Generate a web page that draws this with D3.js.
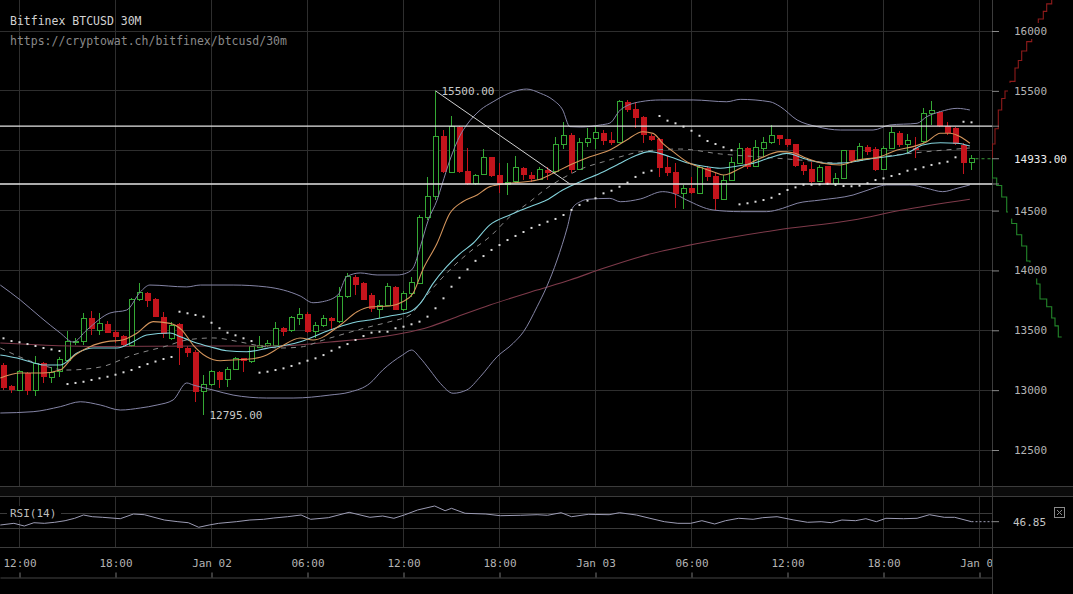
<!DOCTYPE html>
<html><head><meta charset="utf-8">
<script src="https://cdn.jsdelivr.net/npm/d3@7"></script>
<style>
html,body{margin:0;padding:0;background:#000;}
svg{display:block;}
text{font-family:"DejaVu Sans Mono",monospace;}
</style></head><body>
<svg id="chart" width="1073" height="594"></svg>
<script>
// ---------------- DATA ----------------
const chartTitle = "Bitfinex BTCUSD 30M";
const chartSubtitle = "https://cryptowat.ch/bitfinex/btcusd/30m";
const startTime = Date.UTC(2018, 0, 1, 12, 0);   // time of candle index 0 (Jan 01 12:00)
const firstIndex = -2;                            // first visible candle index (30m steps)

const opens = [
13210,13035,12995,13146,12995,13224,13107,13154,13246,13405,
13405,13600,13502,13553,13486,13452,13369,13753,13814,13759,
13609,13433,13550,13350,13319,12987,13043,13154,13090,13174,
13266,13238,13358,13369,13377,13517,13497,13600,13636,13489,
13536,13600,13572,13786,13943,13892,13795,13675,13711,13859,
13675,13809,13893,14444,14616,15123,14817,15201,14833,14722,
14803,14945,14797,14714,14741,14853,14797,14761,14839,14825,
15048,15131,14845,15067,15104,15150,15090,15067,15410,15346,
15279,15123,15095,14861,14825,14645,14686,14645,14853,14789,
14594,14755,14895,15020,14870,15020,15067,15131,15095,15056,
14880,14845,14741,14872,14722,14770,15006,14917,15029,15012,
14845,15020,15145,15048,15020,15073,15307,15326,15207,15187,
15048,14900];
const highs = [
13227,13043,13168,13154,13285,13238,13196,13274,13497,13436,
13642,13664,13647,13580,13502,13461,13767,13898,13822,13767,
13655,13572,13558,13369,13336,13127,13168,13160,13191,13279,
13271,13369,13452,13419,13572,13525,13620,13684,13650,13572,
13628,13609,13864,13982,13962,13900,13809,13753,13892,13870,
13830,13943,14463,14783,15500,15173,15292,15210,15020,14805,
15015,14950,14895,14895,14956,14860,14825,14861,14861,15112,
15243,15146,15104,15187,15207,15173,15159,15424,15424,15410,
15290,15140,15104,14956,14900,14714,14778,14870,14870,14811,
14797,14950,15062,15030,15090,15112,15215,15131,15100,15060,
14908,14908,14880,14872,14811,15010,15010,15062,15048,15030,
15040,15195,15167,15140,15112,15354,15418,15335,15243,15200,
15062,14964];
const lows = [
13001,12976,12993,12960,12951,13062,13057,13112,13238,13377,
13377,13461,13461,13475,13394,13363,13363,13747,13692,13609,
13433,13419,13210,13279,12904,12795,13035,13015,13024,13170,
13154,13230,13355,13358,13369,13452,13489,13544,13480,13433,
13530,13502,13564,13767,13795,13753,13655,13600,13700,13670,
13665,13781,13885,14421,14588,14814,14810,14815,14714,14714,
14797,14780,14645,14630,14728,14755,14741,14755,14755,14810,
15015,14811,14840,15034,15012,15048,15048,15067,15326,15187,
15067,15080,14778,14789,14519,14511,14640,14640,14750,14505,
14590,14750,14890,14850,14865,14950,15060,15048,15034,14861,
14797,14730,14735,14714,14708,14765,14900,14910,14964,14830,
14840,15015,15029,14979,14936,15065,15215,15200,15131,15050,
14806,14839];
const closes = [
13018,13001,13154,12995,13224,13107,13146,13252,13405,13410,
13600,13508,13553,13480,13447,13377,13759,13814,13747,13614,
13469,13544,13350,13313,12987,13051,13154,13085,13174,13266,
13246,13363,13377,13386,13517,13489,13609,13636,13489,13536,
13600,13580,13786,13953,13878,13753,13675,13711,13864,13670,
13809,13898,14444,14616,15117,14825,15201,14825,14722,14797,
14945,14789,14722,14733,14861,14797,14761,14839,14817,15056,
15123,14839,15067,15104,15150,15084,15067,15410,15340,15271,
15131,15090,14853,14817,14638,14686,14645,14861,14783,14594,
14755,14900,15020,14861,15029,15067,15131,15095,15048,14872,
14833,14741,14861,14722,14770,15000,14917,15034,14992,14839,
15020,15150,15048,15084,15006,15307,15335,15207,15146,15056,
14900,14933];

// Indicators: [candle index, price]
const bbUpper = [[-2.4,13878],[0.1,13753],[2.6,13611],[5.1,13477],[6.7,13402],[8.4,13502],[11.3,13644],[13.4,13669],[15.1,13820],[16.3,13878],[20.9,13862],[22.6,13878],[26.7,13878],[30.9,13862],[35.1,13786],[36.7,13730],[37.9,13739],[39.8,13795],[40.9,13948],[42.6,13979],[44.7,13962],[47.2,13962],[48.4,13979],[49.2,14020],[50.1,14198],[51.1,14421],[52.2,14588],[52.8,14714],[53.8,14922],[55.1,15131],[55.9,15215],[57.6,15340],[59.2,15409],[61.7,15493],[63.4,15515],[65.1,15480],[66.7,15424],[67.9,15340],[68.8,15201],[70.1,15198],[72.6,15215],[73.8,15231],[75.1,15340],[77.6,15409],[80.1,15424],[84.2,15424],[88.4,15409],[90.1,15429],[93.8,15409],[95.1,15368],[97.2,15257],[99.7,15201],[102.6,15173],[106.7,15173],[108.8,15215],[112.2,15229],[113.4,15284],[115.1,15326],[117.2,15354],[118.8,15340]];
const bbLower = [[-2.4,12809],[1.7,12820],[5.1,12862],[7.6,12903],[10.1,12876],[12.6,12834],[15.1,12851],[17.2,12876],[19.2,12918],[20.9,13060],[21.7,13043],[24.2,13001],[26.7,12959],[30.9,12934],[34.2,12934],[38.8,12959],[41.3,12984],[43.8,13057],[45.4,13168],[47.9,13294],[49,13335],[50.1,13268],[51.3,13168],[52.6,13057],[54.2,12974],[55.9,13001],[57.6,13112],[59.7,13279],[61.7,13391],[63,13488],[64.7,13697],[65.9,13864],[67.2,14087],[68.5,14365],[69.1,14519],[70.1,14574],[71,14594],[73.8,14602],[75.1,14574],[77.6,14597],[80.4,14658],[81.7,14644],[83.4,14588],[86.7,14505],[90.1,14491],[93.4,14491],[95.4,14519],[97.2,14561],[100.1,14588],[104.2,14630],[106.7,14686],[108.4,14714],[111.3,14714],[113.4,14686],[115.4,14658],[117.2,14686],[118.8,14714]];
const bbMiddle = [[-2.4,13352],[1.7,13235],[5.9,13168],[10.1,13193],[14.2,13294],[18.4,13369],[20.9,13419],[24.2,13436],[27.6,13402],[30.1,13369],[32.6,13352],[35.1,13360],[38,13419],[43.8,13530],[46.3,13572],[48.8,13628],[50.4,13753],[52.2,13892],[54.2,14031],[56.3,14156],[58.8,14282],[61.3,14449],[63.8,14574],[65.9,14686],[67.9,14770],[70.4,14853],[73,14908],[75.9,14964],[77.6,14992],[82.6,15014],[87.6,14973],[92.6,14948],[97.6,14922],[102.6,14897],[107.6,14948],[113.4,14992],[118.8,15023]];
const emaFast = [[-2.4,13101],[0.1,13143],[2.9,13143],[5.1,13168],[6.7,13279],[8.8,13363],[10.9,13405],[12.9,13419],[14.7,13477],[16.7,13572],[18.8,13558],[20.3,13502],[21.7,13377],[23.4,13279],[25.1,13246],[26.7,13252],[28.4,13258],[30.1,13274],[30.9,13293],[32.6,13360],[35.1,13436],[36.7,13419],[40.1,13544],[42.2,13655],[43.8,13694],[46.3,13703],[47.9,13739],[49.2,13809],[50.4,14004],[52.2,14227],[53.8,14477],[55.4,14574],[57.2,14630],[58.8,14700],[61.3,14728],[64.7,14755],[66.7,14811],[68.8,14881],[71.3,14950],[73.8,15006],[75.9,15090],[77.9,15159],[79.2,15145],[80.4,15062],[81.7,14992],[83.4,14908],[85.1,14861],[86.7,14825],[88,14797],[90.1,14853],[92.6,14937],[95.1,14992],[96.7,14983],[98.4,14937],[100.4,14895],[102.6,14881],[104.7,14922],[107.6,14950],[109.7,15006],[111.7,15034],[113.4,15075],[115.1,15146],[116.3,15146],[117.6,15117],[118.8,15062]];
const emaMid = [[-2.4,13294],[-0.3,13268],[1.7,13229],[2.9,13210],[5.1,13210],[7.2,13310],[9.2,13352],[12.2,13352],[14.2,13405],[15.9,13461],[18.8,13477],[20.1,13446],[21.7,13405],[23.8,13363],[25.9,13329],[28.4,13321],[30.9,13349],[33.4,13377],[35.1,13405],[38.8,13502],[42.2,13572],[43.8,13586],[46.3,13619],[48.8,13655],[50.1,13725],[51.7,13892],[53.4,14031],[55.1,14143],[56.7,14227],[58.8,14380],[61.3,14463],[63.8,14532],[65.9,14588],[67.9,14672],[70.1,14741],[73,14825],[75.1,14895],[76.7,14950],[78.8,14992],[81.3,14950],[83.4,14900],[85.4,14872],[87.6,14853],[89.2,14866],[91.7,14895],[94.2,14950],[95.9,14978],[98.4,14928],[100.9,14895],[103.4,14900],[105.9,14928],[108.4,14950],[110.9,14978],[112.9,15048],[115.1,15067],[117.2,15062],[118.8,15039]];
const maSlow = [[-2.4,13394],[10.1,13364],[22.6,13369],[32.6,13369],[38.8,13402],[43.8,13433],[47.9,13475],[51.3,13530],[54.7,13613],[58.8,13711],[64.7,13836],[68.8,13920],[73,14018],[77.6,14115],[85.1,14229],[94.7,14338],[104.2,14421],[110,14500],[118.8,14595]];
// Parabolic SAR, one value per candle from firstIndex
const sarValues = [
13433,13410,13400,13385,13369,13352,13340,13327,13051,13060,
13070,13085,13099,13112,13129,13149,13168,13193,13218,13239,
13260,13277,13655,13642,13628,13614,13563,13517,13480,13458,
13433,13410,13146,13154,13168,13182,13202,13224,13246,13266,
13293,13329,13358,13385,13419,13452,13480,13488,13488,13517,
13530,13550,13572,13614,13684,13767,13864,13939,14009,14080,
14120,14171,14212,14254,14288,14321,14355,14380,14407,14430,
14463,14505,14547,14583,14603,14644,14666,14699,14733,14781,
14816,14833,15290,15251,15229,15201,15167,15125,15081,15056,
15029,15004,14552,14561,14574,14588,14607,14638,14672,14694,
14716,14716,14719,14724,14716,14705,14703,14708,14728,14755,
14769,14789,14805,14833,14845,14862,14881,14895,14908,14945,
15242,15237];
// RSI(14): [candle index, value]
const rsiValues = [[-2.4,38],[-0.7,42.5],[0.6,35.3],[1.8,44.1],[3.1,42.5],[4.4,45.2],[5.7,49.5],[6.9,55.9],[8,64.7],[9.1,60.1],[10.4,58.5],[12.6,54.8],[14.25,67.3],[15.6,65.5],[18.1,51.3],[19.8,46.8],[21.1,44.1],[22.4,31.9],[23.7,38],[24.9,42.5],[27.1,46.8],[28.8,51.3],[30.5,53.2],[31.8,56.7],[33.5,60.1],[35.2,64.7],[36.4,53.2],[38.6,57.5],[41.2,71.9],[43.8,58.5],[45.4,62],[46.8,55.9],[48.1,64.7],[49.75,78],[51.9,88.7],[53.2,76.1],[54,82.5],[55.7,69.2],[58.3,67.3],[60.1,62.8],[62.6,63.9],[64.7,65.5],[66,63.9],[67.7,70.8],[69,60.1],[71.1,66.5],[73.7,65.5],[75,70.8],[77.1,64.7],[78.8,55.9],[80.6,46.8],[82.3,42.5],[83.9,42.5],[85.3,49.5],[86.9,40.7],[88.25,49.5],[89.9,55.9],[91.7,53.2],[92.9,57.5],[94.7,60.1],[96.8,51.3],[98.5,45.2],[100.2,46.8],[101.5,44.1],[102.8,51.3],[104.5,49.5],[105.8,54.8],[107.1,46.8],[108.3,55.9],[110.5,54.8],[112.2,55.9],[113.75,65.5],[115.6,58.5],[116.9,58.5],[119,46.85]];
const rsiLevels = [70, 30];
const lastRsi = 46.85;
const lastPrice = 14933;
// Order book depth: [price, cumulative volume]
const asksDepth = [[14933,0],[14940,3],[15056,30],[15183,63],[15340,97],[15436,130],[15499,180],[15579,230],[15691,263],[15753,297],[15833,347],[15911,397],[15975,430],[16038,463],[16100,513],[16164,547],[16227,597],[16300,660]];
const bidsDepth = [[14933,0],[14930,3],[14772,47],[14709,97],[14613,147],[14488,197],[14392,247],[14298,297],[14204,347],[14079,380],[14029,447],[13887,480],[13761,547],[13696,597],[13603,630],[13537,663],[13444,697]];
// Drawings
const supportLevels = [15205, 14722];
const trendLine = [[52, 15500], [68.8, 14722]];
const highMark = {index: 52, price: 15500, text: "15500.00"};
const lowMark = {index: 23, price: 12795, text: "12795.00"};
const gridPrices = [16000, 15500, 15000, 14500, 14000, 13500, 13000, 12500];
const priceLabels = [16000, 15500, 14500, 14000, 13500, 13000, 12500];

// ---------------- CHART ----------------
const W = 1073, H = 594, plotRight = 992, mainBottom = 486;
const halfHour = 30 * 60 * 1000;
const tAt = i => new Date(startTime + i * halfHour);
const x = d3.scaleTime().domain([tAt(-2.4375), tAt(121.5625)]).range([0, plotRight]);
const y = d3.scaleLinear().domain([12500, 16000]).range([450, 31]);
const yRsi = d3.scaleLinear().domain([30, 70]).range([528, 513]);
const xDepth = d3.scaleLinear().domain([0, 810]).range([plotRight, W]);

const svg = d3.select("#chart");
svg.append("rect").attr("width", W).attr("height", H).attr("fill", "#000");
const defs = svg.append("defs");
defs.append("clipPath").attr("id", "clipMain").append("rect").attr("x", 0).attr("y", 0).attr("width", plotRight).attr("height", mainBottom);
defs.append("clipPath").attr("id", "clipDepth").append("rect").attr("x", plotRight).attr("y", 0).attr("width", W - plotRight).attr("height", mainBottom);
defs.append("clipPath").attr("id", "clipTime").append("rect").attr("x", 0).attr("y", -40).attr("width", plotRight).attr("height", 60);
defs.append("clipPath").attr("id", "clipRsi").append("rect").attr("x", 0).attr("y", 497).attr("width", plotRight).attr("height", 50);

svg.append("rect").attr("x", 0).attr("y", 487).attr("width", W).attr("height", 9).attr("fill", "#0b0b0b");

const gridColor = "#2e2e2e";
const timeTicks = x.ticks(d3.utcHour.every(6));
const grid = svg.append("g").attr("stroke", gridColor).attr("shape-rendering", "crispEdges");
timeTicks.forEach(t => {
  grid.append("line").attr("x1", x(t)).attr("x2", x(t)).attr("y1", 0).attr("y2", mainBottom);
  grid.append("line").attr("x1", x(t)).attr("x2", x(t)).attr("y1", 497).attr("y2", 547);
});
gridPrices.forEach(p => grid.append("line").attr("x1", 0).attr("x2", plotRight).attr("y1", y(p)).attr("y2", y(p)));
rsiLevels.forEach(v => grid.append("line").attr("x1", 0).attr("x2", plotRight).attr("y1", yRsi(v)).attr("y2", yRsi(v)).attr("stroke", "#3a3a3a"));

const frame = svg.append("g").attr("stroke", "#3c3c3c").attr("shape-rendering", "crispEdges");
[486.5, 496.5, 547.5].forEach(v => frame.append("line").attr("x1", 0).attr("x2", W).attr("y1", v).attr("y2", v));
frame.append("line").attr("x1", 992.5).attr("x2", 992.5).attr("y1", 0).attr("y2", H);

// ---- depth chart ----
const depthG = svg.append("g").attr("clip-path", "url(#clipDepth)");
const depthLine = d3.line().x(d => xDepth(d[1])).y(d => y(d[0])).curve(d3.curveStepBefore);
depthG.append("path").attr("d", depthLine(asksDepth)).attr("fill", "none").attr("stroke", "#8e1b1b").attr("stroke-width", 1.1);
depthG.append("path").attr("d", depthLine(bidsDepth)).attr("fill", "none").attr("stroke", "#23862a").attr("stroke-width", 1.1);

// ---- main panel ----
const main = svg.append("g").attr("clip-path", "url(#clipMain)");
const green = "#34a834", red = "#c4141c";
const candles = opens.map((o, k) => ({i: firstIndex + k, o, h: highs[k], l: lows[k], c: closes[k]}));
const cg = main.append("g").attr("shape-rendering", "crispEdges");
candles.forEach(d => {
  const cx = x(tAt(d.i));
  const up = d.c >= d.o;
  const top = y(Math.max(d.o, d.c)), bot = y(Math.min(d.o, d.c));
  const col = up ? green : red;
  if (up) {
    cg.append("line").attr("x1", cx).attr("x2", cx).attr("y1", y(d.h)).attr("y2", top).attr("stroke", col);
    cg.append("line").attr("x1", cx).attr("x2", cx).attr("y1", bot).attr("y2", y(d.l)).attr("stroke", col);
    cg.append("rect").attr("x", cx - 2.5).attr("y", top).attr("width", 5).attr("height", Math.max(1, bot - top))
      .attr("fill", "#000").attr("stroke", col).attr("stroke-width", 1);
  } else {
    cg.append("line").attr("x1", cx).attr("x2", cx).attr("y1", y(d.h)).attr("y2", y(d.l)).attr("stroke", col);
    cg.append("rect").attr("x", cx - 3).attr("y", top).attr("width", 6).attr("height", Math.max(1.5, bot - top)).attr("fill", col);
  }
});

const ind = d3.line().x(d => x(tAt(d[0]))).y(d => y(d[1])).curve(d3.curveMonotoneX);
main.append("path").attr("d", ind(maSlow)).attr("fill", "none").attr("stroke", "#7e3a4a").attr("stroke-width", 1.1);
main.append("path").attr("d", ind(bbUpper)).attr("fill", "none").attr("stroke", "#8585a6").attr("stroke-width", 1);
main.append("path").attr("d", ind(bbLower)).attr("fill", "none").attr("stroke", "#8585a6").attr("stroke-width", 1);
main.append("path").attr("d", ind(bbMiddle)).attr("fill", "none").attr("stroke", "#8a8a8a").attr("stroke-width", 1).attr("stroke-dasharray", "5,5");
main.append("path").attr("d", ind(emaMid)).attr("fill", "none").attr("stroke", "#84d3dc").attr("stroke-width", 1.1);
main.append("path").attr("d", ind(emaFast)).attr("fill", "none").attr("stroke", "#d4955c").attr("stroke-width", 1.1);

main.append("g").selectAll("rect").data(sarValues).join("rect")
  .attr("x", (v, k) => x(tAt(firstIndex + k)) - 1).attr("y", v => y(v) - 1)
  .attr("width", 2).attr("height", 2).attr("fill", "#dcdcdc");

supportLevels.forEach(p => main.append("line").attr("x1", 0).attr("x2", plotRight).attr("y1", y(p)).attr("y2", y(p))
  .attr("stroke", "#e4e4e4").attr("stroke-width", 1.4));
main.append("line")
  .attr("x1", x(tAt(trendLine[0][0]))).attr("y1", y(trendLine[0][1]))
  .attr("x2", x(tAt(trendLine[1][0]))).attr("y2", y(trendLine[1][1]))
  .attr("stroke", "#d0d0d0").attr("stroke-width", 1);

[highMark, lowMark].forEach(m => main.append("text").attr("x", x(tAt(m.index)) + 6).attr("y", y(m.price))
  .attr("dy", "0.35em").attr("font-size", 11).attr("fill", "#c8c8c8").text(m.text));

// current price dashed marker
main.append("line").attr("x1", x(tAt(firstIndex + closes.length - 1)) + 4).attr("x2", plotRight)
  .attr("y1", y(lastPrice)).attr("y2", y(lastPrice)).attr("stroke", "#3a9a3a").attr("stroke-dasharray", "3,3");

// ---- titles ----
svg.append("text").attr("x", 10).attr("y", 21).attr("dy", "0.35em").attr("font-size", 11.5).attr("fill", "#d2d2d2").text(chartTitle);
svg.append("text").attr("x", 10).attr("y", 41).attr("dy", "0.35em").attr("font-size", 11.5).attr("fill", "#8a8a8a").text(chartSubtitle);

// ---- price axis ----
const yAxisG = svg.append("g").attr("transform", `translate(${plotRight},0)`);
priceLabels.forEach(p => yAxisG.append("rect").attr("x", 16).attr("y", y(p) - 8).attr("width", 42).attr("height", 16).attr("fill", "#000"));
yAxisG.append("rect").attr("x", 16).attr("y", y(lastPrice) - 8).attr("width", 65).attr("height", 16).attr("fill", "#000");
yAxisG.call(d3.axisRight(y).tickValues(priceLabels).tickSize(7).tickPadding(15).tickFormat(d3.format("d")))
  .call(g => g.select(".domain").remove())
  .call(g => g.selectAll(".tick line").attr("stroke", "#8a8a8a"))
  .call(g => g.selectAll(".tick text").attr("fill", "#b4b4b4").attr("font-size", 11).attr("font-family", "DejaVu Sans Mono, monospace"));
const extraTicks = supportLevels.concat([lastPrice]);
extraTicks.forEach(p => yAxisG.append("line").attr("x1", 0).attr("x2", 7).attr("y1", y(p)).attr("y2", y(p)).attr("stroke", "#8a8a8a"));
yAxisG.append("text").attr("x", 22).attr("y", y(lastPrice)).attr("dy", "0.35em").attr("font-size", 11).attr("fill", "#ececec").text(d3.format(".2f")(lastPrice));

// ---- RSI panel ----
const rsiG = svg.append("g").attr("clip-path", "url(#clipRsi)");
const rsiLine = d3.line().x(d => x(tAt(d[0]))).y(d => yRsi(d[1]));
rsiG.append("path").attr("d", rsiLine(rsiValues)).attr("fill", "none").attr("stroke", "#9c9cb4").attr("stroke-width", 1);
const lastR = rsiValues[rsiValues.length - 1];
rsiG.append("line").attr("x1", x(tAt(lastR[0]))).attr("x2", plotRight).attr("y1", yRsi(lastRsi)).attr("y2", yRsi(lastRsi))
  .attr("stroke", "#9c9cb4").attr("stroke-dasharray", "2,2");
svg.append("rect").attr("x", 7).attr("y", 506).attr("width", 54).attr("height", 14).attr("fill", "#000");
svg.append("text").attr("x", 10).attr("y", 513).attr("dy", "0.35em").attr("font-size", 11).attr("fill", "#bdbdbd").text("RSI(14)");
svg.append("line").attr("x1", plotRight).attr("x2", plotRight + 7).attr("y1", yRsi(lastRsi)).attr("y2", yRsi(lastRsi)).attr("stroke", "#8a8a8a");
svg.append("text").attr("x", 1013).attr("y", yRsi(lastRsi)).attr("dy", "0.35em").attr("font-size", 11).attr("fill", "#c4c4c4").text(d3.format(".2f")(lastRsi));
const box = svg.append("g").attr("stroke", "#8a8a8a").attr("fill", "none");
box.append("rect").attr("x", 1054.5).attr("y", 507.5).attr("width", 10).attr("height", 10);
box.append("line").attr("x1", 1057).attr("y1", 510).attr("x2", 1062).attr("y2", 515);
box.append("line").attr("x1", 1062).attr("y1", 510).attr("x2", 1057).attr("y2", 515);

// ---- time axis (labels clipped at the price axis) ----
const fmtDay = d3.utcFormat("%b %d"), fmtHour = d3.utcFormat("%H:%M");
const xAxisG = svg.append("g").attr("transform", "translate(0,577.5)").attr("clip-path", "url(#clipTime)");
xAxisG.call(d3.axisTop(x).tickValues(timeTicks).tickSize(5).tickSizeOuter(0).tickPadding(6)
    .tickFormat(d => d.getUTCHours() === 0 ? fmtDay(d) : fmtHour(d)))
  .call(g => g.select(".domain").attr("stroke", "#444"))
  .call(g => g.selectAll(".tick line").attr("stroke", "#777"))
  .call(g => g.selectAll(".tick text").attr("fill", "#b4b4b4").attr("font-size", 11).attr("font-family", "DejaVu Sans Mono, monospace"));
</script>
</body></html>
